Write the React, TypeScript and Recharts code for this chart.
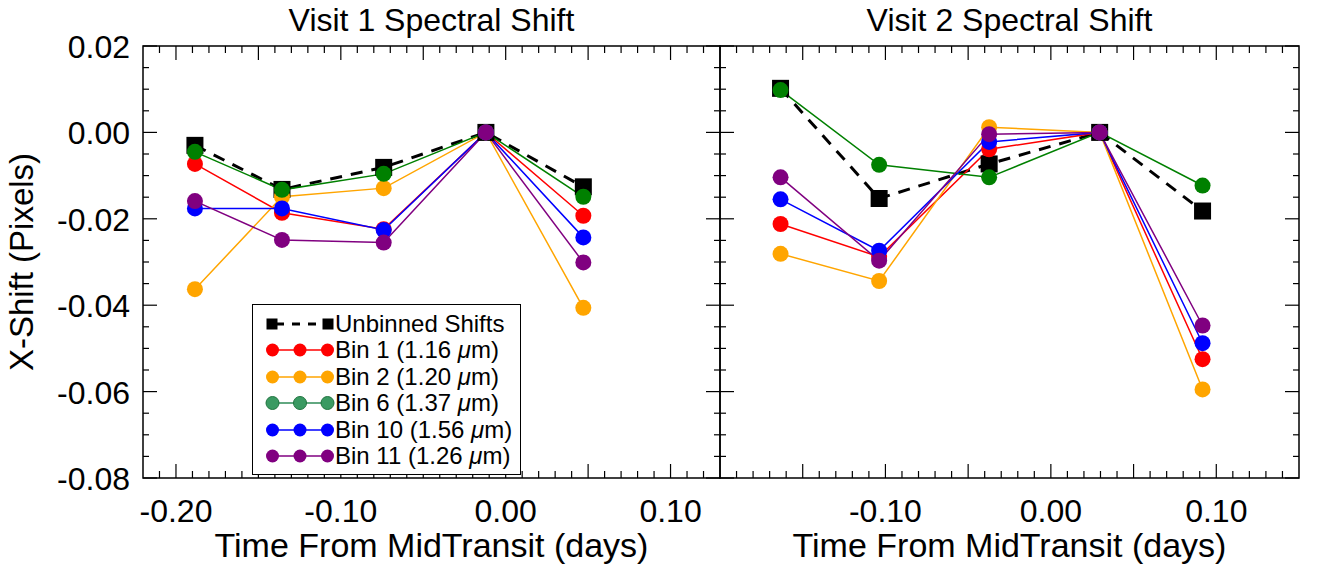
import { LineChart, Line, XAxis, YAxis, ReferenceArea } from 'recharts';

// Visit 1 (time from mid transit, days) and x-shifts (pixels)
const visit1Time = [-0.1885, -0.1357, -0.074, -0.012, 0.0471];
const visit1Unbinned = [-0.003, -0.0132, -0.0081, 0, -0.0126];
const visit1Bin1 = [-0.0073, -0.0186, -0.0224, 0, -0.0193];
const visit1Bin2 = [-0.0363, -0.0149, -0.0129, 0, -0.0406];
const visit1Bin6 = [-0.0045, -0.0133, -0.0096, 0, -0.0149];
const visit1Bin10 = [-0.0176, -0.0176, -0.0226, 0, -0.0243];
const visit1Bin11 = [-0.0159, -0.0249, -0.0255, 0, -0.0301];

// Visit 2
const visit2Time = [-0.1634, -0.1038, -0.0373, 0.0295, 0.0917];
const visit2Unbinned = [0.0102, -0.0153, -0.0073, 0, -0.0182];
const visit2Bin1 = [-0.0212, -0.0288, -0.0039, 0, -0.0525];
const visit2Bin2 = [-0.0281, -0.0344, 0.0012, 0, -0.0595];
const visit2Bin6 = [0.0098, -0.0075, -0.0104, 0, -0.0123];
const visit2Bin10 = [-0.0155, -0.0274, -0.0022, 0, -0.0488];
const visit2Bin11 = [-0.0104, -0.0297, -0.0004, 0, -0.0447];

// axes
const visit1Domain = [-0.22, 0.13];
const visit2Domain = [-0.2, 0.15];
const yDomain = [-0.08, 0.02];
const visit1Ticks = [
  -0.21, -0.2, -0.19, -0.18, -0.17, -0.16, -0.15, -0.14, -0.13, -0.12, -0.11, -0.1,
  -0.09, -0.08, -0.07, -0.06, -0.05, -0.04, -0.03, -0.02, -0.01, 0, 0.01, 0.02,
  0.03, 0.04, 0.05, 0.06, 0.07, 0.08, 0.09, 0.1, 0.11, 0.12,
];
const visit2Ticks = [
  -0.19, -0.18, -0.17, -0.16, -0.15, -0.14, -0.13, -0.12, -0.11, -0.1, -0.09, -0.08,
  -0.07, -0.06, -0.05, -0.04, -0.03, -0.02, -0.01, 0, 0.01, 0.02, 0.03, 0.04,
  0.05, 0.06, 0.07, 0.08, 0.09, 0.1, 0.11, 0.12, 0.13, 0.14,
];
const yTicks = [
  -0.08, -0.075, -0.07, -0.065, -0.06, -0.055, -0.05, -0.045, -0.04, -0.035, -0.03,
  -0.025, -0.02, -0.015, -0.01, -0.005, 0, 0.005, 0.01, 0.015, 0.02,
];

const seriesNames = ['Unbinned Shifts', 'Bin 1 (1.16 ', 'Bin 2 (1.20 ', 'Bin 6 (1.37 ', 'Bin 10 (1.56 ', 'Bin 11 (1.26 '];
const seriesKeys = ['unbinned', 'bin1', 'bin2', 'bin6', 'bin10', 'bin11'];
const seriesColors = ['#000000', '#ff0000', '#ffa500', '#008000', '#0000ff', '#800080'];

const FONT = '"Liberation Sans", Arial, Helvetica, sans-serif';
const PLOT_TOP = 46;
const PLOT_BOTTOM = 478;

function buildRows(time: number[], cols: number[][]) {
  return time.map((t, i) => {
    const row: any = { t };
    seriesKeys.forEach((k, j) => {
      row[k] = cols[j][i];
    });
    return row;
  });
}

const visit1Rows = buildRows(visit1Time, [visit1Unbinned, visit1Bin1, visit1Bin2, visit1Bin6, visit1Bin10, visit1Bin11]);
const visit2Rows = buildRows(visit2Time, [visit2Unbinned, visit2Bin1, visit2Bin2, visit2Bin6, visit2Bin10, visit2Bin11]);

const isMult = (v: number, step: number) => Math.abs(v / step - Math.round(v / step)) < 1e-6;
const fmt = (v: number) => (Math.abs(v) < 1e-9 ? '0.00' : v.toFixed(2));

const makeXTick = () => (props: any) => {
  const { x, payload } = props;
  const v = payload.value;
  const len = isMult(v, 0.05) ? 14 : 7;
  return (
    <g>
      <line x1={x} x2={x} y1={PLOT_BOTTOM} y2={PLOT_BOTTOM - len} stroke="#000" strokeWidth={1.2} />
      <line x1={x} x2={x} y1={PLOT_TOP} y2={PLOT_TOP + len} stroke="#000" strokeWidth={1.2} />
      {isMult(v, 0.1) && (
        <text x={x} y={PLOT_BOTTOM + 44} textAnchor="middle" fontSize={32} fontFamily={FONT} fill="#000">
          {fmt(v)}
        </text>
      )}
    </g>
  );
};

const makeYTick = (left: number, right: number, labels: boolean) => (props: any) => {
  const { y, payload } = props;
  const v = payload.value;
  const len = isMult(v, 0.02) ? 14 : 6;
  return (
    <g>
      <line x1={left} x2={left + len} y1={y} y2={y} stroke="#000" strokeWidth={1.2} />
      <line x1={right} x2={right - len} y1={y} y2={y} stroke="#000" strokeWidth={1.2} />
      {labels && isMult(v, 0.02) && (
        <text x={left - 13} y={y + 12} textAnchor="end" fontSize={32} fontFamily={FONT} fill="#000">
          {fmt(v)}
        </text>
      )}
    </g>
  );
};

const squareDot = (p: any) => (
  <rect key={`sq-${p.index}`} x={p.cx - 8.5} y={p.cy - 8.5} width={17} height={17} fill="#000" />
);

function Panel({ rows, domain, ticks, left, right, yWidth, margin, labels }: any) {
  return (
    <LineChart width={margin.left + yWidth + (right - left) + margin.right} height={571} data={rows} margin={margin}>
      <XAxis
        type="number"
        dataKey="t"
        domain={domain}
        ticks={ticks}
        interval={0}
        allowDataOverflow
        axisLine={false}
        tickLine={false}
        height={30}
        tick={makeXTick()}
      />
      <YAxis
        type="number"
        domain={yDomain}
        ticks={yTicks}
        interval={0}
        allowDataOverflow
        axisLine={false}
        tickLine={false}
        width={yWidth}
        tick={makeYTick(left, right, labels)}
      />
      <ReferenceArea x1={domain[0]} x2={domain[1]} y1={yDomain[0]} y2={yDomain[1]} fill="none" stroke="#000" strokeWidth={1.5} />
      {seriesKeys.map((k, i) =>
        i === 0 ? (
          <Line
            key={k}
            type="linear"
            dataKey={k}
            stroke="#000"
            strokeWidth={3}
            strokeDasharray="12 9"
            dot={squareDot}
            activeDot={false}
            isAnimationActive={false}
          />
        ) : (
          <Line
            key={k}
            type="linear"
            dataKey={k}
            stroke={seriesColors[i]}
            strokeWidth={1.5}
            dot={{ r: 8, fill: seriesColors[i], stroke: 'none' }}
            activeDot={false}
            isAnimationActive={false}
          />
        )
      )}
    </LineChart>
  );
}

function LegendBox() {
  const rowY = [18.5, 45, 71.5, 98, 124.5, 151];
  return (
    <div
      style={{
        position: 'absolute',
        left: 252,
        top: 304,
        width: 267,
        height: 169,
        border: '1.5px solid #000',
        background: '#fff',
      }}
    >
      {seriesKeys.map((k, i) => (
        <div key={k} style={{ position: 'absolute', left: 0, top: rowY[i] - 14, height: 28, display: 'flex', alignItems: 'center' }}>
          <svg width={82} height={28} style={{ display: 'block' }}>
            {i === 0 ? (
              <g>
                <line x1={19} x2={75} y1={14} y2={14} stroke="#000" strokeWidth={3} strokeDasharray="8 8" strokeDashoffset={-4} />
                <rect x={13.5} y={8.5} width={11} height={11} fill="#000" />
                <rect x={69.5} y={8.5} width={11} height={11} fill="#000" />
              </g>
            ) : (
              <g>
                <line x1={19} x2={75} y1={14} y2={14} stroke={i === 3 ? '#2e8b57' : seriesColors[i]} strokeWidth={1.5} />
                {[19.5, 47, 74.5].map((cx) => (
                  <circle
                    key={cx}
                    cx={cx}
                    cy={14}
                    r={6.5}
                    fill={i === 3 ? '#3a9a62' : seriesColors[i]}
                    stroke={i === 3 ? '#20743f' : 'none'}
                    strokeWidth={1}
                  />
                ))}
              </g>
            )}
          </svg>
          <span style={{ fontFamily: FONT, fontSize: 24, color: '#000', whiteSpace: 'nowrap', lineHeight: '28px' }}>
            {seriesNames[i]}
            {i > 0 && (
              <>
                <i>μ</i>m)
              </>
            )}
          </span>
        </div>
      ))}
    </div>
  );
}

export default function App() {
  return (
    <div style={{ position: 'absolute', left: 0, top: 0, width: 1317, height: 571, background: '#fff', overflow: 'hidden' }}>
      <div style={{ position: 'absolute', left: 0, top: 0 }}>
        <Panel
          rows={visit1Rows}
          domain={visit1Domain}
          ticks={visit1Ticks}
          left={143}
          right={720}
          yWidth={80}
          margin={{ top: 46, right: 10, bottom: 63, left: 63 }}
          labels
        />
      </div>
      <div style={{ position: 'absolute', left: 700, top: 0 }}>
        <Panel
          rows={visit2Rows}
          domain={visit2Domain}
          ticks={visit2Ticks}
          left={20}
          right={599}
          yWidth={1}
          margin={{ top: 46, right: 18, bottom: 63, left: 19 }}
          labels={false}
        />
      </div>
      <LegendBox />
      <svg width={1317} height={571} style={{ position: 'absolute', left: 0, top: 0, pointerEvents: 'none' }}>
        <g fontFamily={FONT} fill="#000">
          <text x={431.5} y={31} textAnchor="middle" fontSize={32}>Visit 1 Spectral Shift</text>
          <text x={1009.5} y={31} textAnchor="middle" fontSize={32}>Visit 2 Spectral Shift</text>
          <text x={431.5} y={557} textAnchor="middle" fontSize={34}>Time From MidTransit (days)</text>
          <text x={1009.5} y={557} textAnchor="middle" fontSize={34}>Time From MidTransit (days)</text>
          <text transform="translate(33,262) rotate(-90)" textAnchor="middle" fontSize={33}>X-Shift (Pixels)</text>
        </g>
      </svg>
    </div>
  );
}
